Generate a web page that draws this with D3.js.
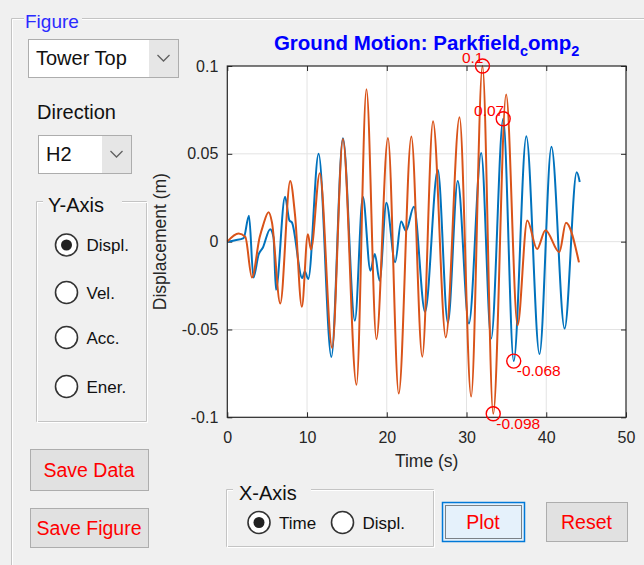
<!DOCTYPE html>
<html>
<head>
<meta charset="utf-8">
<script src="https://cdn.jsdelivr.net/npm/d3@7"></script>
<style>
  body { margin: 0; background: #f0f0f0; }
  svg { display: block; font-family: "Liberation Sans", Arial, sans-serif; }
</style>
</head>
<body>
<svg id="fig" width="644" height="565"></svg>
<script>
// displacement time histories at the turning points
var blueT = [0, 1.0, 2.05, 2.72, 3.28, 3.93, 4.45, 5.38, 5.8, 6.1, 7.24, 7.8, 8.1, 9.4, 9.72, 10.15,
    11.45, 13.05, 14.5, 16.0, 17.0, 17.95, 18.5, 19.1, 19.95, 21.05, 21.8, 22.4, 23.4, 24.8, 26.4,
    27.66, 28.9, 30.3, 31.84, 33.09, 34.6, 35.92, 37.5, 39.15, 40.65, 42.3, 43.82, 44.2];
var blueV = [0, 0.0008, 0.002, 0.0148, -0.0204, -0.0073, -0.0035, 0.0071, 0.0023, -0.0274, 0.0255, 0.012, 0.011, -0.0207, -0.017, -0.0212,
    0.05, -0.0656, 0.0588, -0.045, 0.0256, -0.0165, -0.007, -0.0222, 0.0222, -0.0117, 0.0115, 0.0062, 0.0198, -0.04, 0.0409,
    -0.0462, 0.0345, -0.0466, 0.0504, -0.0552, 0.07, -0.068, 0.06, -0.064, 0.054, -0.0495, 0.0395, 0.034];

var orangeT = [0, 1.42, 2.26, 3.09, 4.05, 4.47, 5.18, 5.6, 6.64, 7.89, 8.5, 9.35, 10.1, 10.5, 11.6,
    13.15, 14.5, 16.2, 17.45, 18.7, 20.15, 21.5, 23.08, 24.45, 25.8, 27.4, 29.12, 30.58, 32.0,
    33.35, 34.97, 36.4, 37.62, 38.85, 39.9, 41.64, 42.47, 44.1];
var orangeV = [0, 0.0046, 0.0027, -0.0204, 0.0023, 0.009, 0.0167, 0.011, -0.0352, 0.0346, 0.0148, -0.0371, 0.0042, -0.0044, 0.039,
    -0.0605, 0.0585, -0.0815, 0.0868, -0.0555, 0.059, -0.0865, 0.0598, -0.0655, 0.0685, -0.0545, 0.0708, -0.0882, 0.1,
    -0.098, 0.0838, -0.0476, 0.0121, -0.0042, 0.0065, -0.006, 0.0107, -0.0118];

// data tips
var markT = [32.0, 34.6, 35.92, 33.35];
var markV = [0.1, 0.07, -0.068, -0.098];
var markLabels = ["0.1", "0.07", "-0.068", "-0.098"];

var xTicks = [0, 10, 20, 30, 40, 50];
var xTickLabels = ["0", "10", "20", "30", "40", "50"];
var yTicks = [-0.1, -0.05, 0, 0.05, 0.1];
var yTickLabels = ["-0.1", "-0.05", "0", "0.05", "0.1"];

var yAxisOptions = ["Displ.", "Vel.", "Acc.", "Ener."];
var xAxisOptions = ["Time", "Displ."];

var svg = d3.select("#fig");

// etched panel border with a gap for the title
function panel(x0, y0, x1, y1, gapA, gapB) {
    [["#c4c4c4", 0], ["#ffffff", 1]].forEach(function(s) {
        var o = s[1];
        svg.append("path")
            .attr("d", "M" + (gapA) + "," + (y0 + o) + "H" + (x0 + o) + "V" + (y1 + o) +
                "H" + (x1 + o) + "V" + (y0 + o) + "H" + gapB)
            .attr("fill", "none")
            .attr("stroke", s[0]);
    });
}

function dropdown(x0, y0, x1, y1, xa, label) {
    svg.append("rect").attr("x", x0 + .5).attr("y", y0 + .5)
        .attr("width", x1 - x0).attr("height", y1 - y0)
        .attr("fill", "#fff").attr("stroke", "#adadad");
    svg.append("rect").attr("x", xa).attr("y", y0 + 1)
        .attr("width", x1 - xa).attr("height", y1 - y0 - 1)
        .attr("fill", "#e6e6e6");
    var cx = (xa + x1) / 2, cy = (y0 + y1) / 2;
    svg.append("path").attr("d", "M" + (cx - 6) + "," + (cy - 3) + "L" + cx + "," + (cy + 3) + "L" + (cx + 6) + "," + (cy - 3))
        .attr("fill", "none").attr("stroke", "#606060").attr("stroke-width", 1.3);
    svg.append("text").attr("x", x0 + 8).attr("y", cy + 7).attr("font-size", 20).attr("fill", "#111").text(label);
}

function radio(cx, cy, on, label) {
    svg.append("circle").attr("cx", cx).attr("cy", cy).attr("r", 11)
        .attr("fill", "#fff").attr("stroke", "#333").attr("stroke-width", 1.6);
    if (on) svg.append("circle").attr("cx", cx).attr("cy", cy).attr("r", 5.5).attr("fill", "#222");
    svg.append("text").attr("x", cx + 20).attr("y", cy + 6).attr("font-size", 17).attr("fill", "#111").text(label);
}

function button(x0, y0, x1, y1, label, focused) {
    svg.append("rect").attr("x", x0 + .5).attr("y", y0 + .5)
        .attr("width", x1 - x0).attr("height", y1 - y0)
        .attr("fill", focused ? "#e5f1fb" : "#e1e1e1")
        .attr("stroke", focused ? "#0078d7" : "#adadad").attr("stroke-width", focused ? 1.5 : 1);
    if (focused) {
        svg.append("rect").attr("x", x0 + 3.5).attr("y", y0 + 3.5)
            .attr("width", x1 - x0 - 6).attr("height", y1 - y0 - 6)
            .attr("fill", "none").attr("stroke", "#111").attr("stroke-dasharray", "1,1");
    }
    svg.append("text").attr("x", (x0 + x1) / 2).attr("y", (y0 + y1) / 2 + 7)
        .attr("text-anchor", "middle").attr("font-size", 19.5).attr("fill", "#ff0000").text(label);
}

// ---- controls ----
panel(11.5, 18.5, 700, 600, 24, 82);
svg.append("text").attr("x", 25).attr("y", 28).attr("font-size", 19).attr("fill", "#2b2bff").text("Figure");

dropdown(28, 39, 178, 77, 149, "Tower Top");
svg.append("text").attr("x", 37).attr("y", 119).attr("font-size", 20).attr("fill", "#111").text("Direction");
dropdown(38, 135, 131, 173, 102, "H2");

panel(36.5, 201.5, 146.5, 421.5, 43, 122);
svg.append("text").attr("x", 48).attr("y", 212).attr("font-size", 20).attr("fill", "#111").text("Y-Axis");
var radioY = d3.scaleOrdinal().domain(yAxisOptions).range([245, 292.5, 337.5, 386.5]);
yAxisOptions.forEach(function(d, i) { radio(66.5, radioY(d), i === 0, d); });

button(30, 449, 148, 490, "Save Data", false);
button(30, 508, 148, 547, "Save Figure", false);

panel(226.5, 489.5, 433.5, 546.5, 233, 311);
svg.append("text").attr("x", 239).attr("y", 500).attr("font-size", 20).attr("fill", "#111").text("X-Axis");
var radioX = d3.scaleOrdinal().domain(xAxisOptions).range([259, 342.5]);
xAxisOptions.forEach(function(d, i) { radio(radioX(d), 522.5, i === 0, d); });

button(442, 502, 524, 541, "Plot", true);
button(546, 502, 627, 541, "Reset", false);

// ---- axes ----
var axL = 227.3, axR = 626, axT = 66, axB = 417.3;
var x = d3.scaleLinear().domain([0, 50]).range([axL, axR]);
var y = d3.scaleLinear().domain([-0.1, 0.1]).range([axB, axT]);

svg.append("rect").attr("x", axL).attr("y", axT)
    .attr("width", axR - axL).attr("height", axB - axT).attr("fill", "#fff");

var grid = svg.append("g").attr("stroke", "#e3e3e3").attr("stroke-width", 1);
grid.selectAll(".gx").data(xTicks.slice(1, -1)).enter().append("line")
    .attr("x1", function(d) { return x(d); }).attr("x2", function(d) { return x(d); })
    .attr("y1", axT).attr("y2", axB);
grid.selectAll(".gy").data(yTicks.slice(1, -1)).enter().append("line")
    .attr("x1", axL).attr("x2", axR)
    .attr("y1", function(d) { return y(d); }).attr("y2", function(d) { return y(d); });

var fmtX = function(d, i) { return xTickLabels[i]; };
var fmtY = function(d, i) { return yTickLabels[i]; };

function styleAxis(g) {
    g.select(".domain").remove();
    g.selectAll("line").attr("stroke", "#262626");
    g.selectAll("text").attr("fill", "#262626").attr("font-size", 16).attr("font-family", null);
}

svg.append("g").attr("transform", "translate(0," + axB + ")")
    .call(d3.axisBottom(x).tickValues(xTicks).tickFormat(fmtX).tickSizeInner(-5).tickSizeOuter(0).tickPadding(14))
    .call(styleAxis);
svg.append("g").attr("transform", "translate(0," + axT + ")")
    .call(d3.axisTop(x).tickValues(xTicks).tickFormat("").tickSizeInner(-5).tickSizeOuter(0))
    .call(styleAxis);
svg.append("g").attr("transform", "translate(" + axL + ",0)")
    .call(d3.axisLeft(y).tickValues(yTicks).tickFormat(fmtY).tickSizeInner(-5).tickSizeOuter(0).tickPadding(9))
    .call(styleAxis);
svg.append("g").attr("transform", "translate(" + axR + ",0)")
    .call(d3.axisRight(y).tickValues(yTicks).tickFormat("").tickSizeInner(-5).tickSizeOuter(0))
    .call(styleAxis);

// ---- lines ----
var line = d3.line()
    .x(function(d) { return x(d[0]); })
    .y(function(d) { return y(d[1]); })
    .curve(d3.curveMonotoneX);

var lines = svg.append("g");
lines.append("path").datum(d3.zip(blueT, blueV))
    .attr("d", line).attr("fill", "none").attr("stroke", "#0072bd").attr("stroke-width", 2);
lines.append("path").datum(d3.zip(orangeT, orangeV))
    .attr("d", line).attr("fill", "none").attr("stroke", "#d95319").attr("stroke-width", 2);

svg.append("rect").attr("x", axL).attr("y", axT)
    .attr("width", axR - axL).attr("height", axB - axT)
    .attr("fill", "none").attr("stroke", "#262626").attr("stroke-width", 1.2);

// ---- data tips ----
var marks = svg.append("g");
markT.forEach(function(t, i) {
    var cx = x(t), cy = y(markV[i]);
    marks.append("circle").attr("cx", cx).attr("cy", cy).attr("r", 7)
        .attr("fill", "none").attr("stroke", "#ff0000").attr("stroke-width", 1.4);
    var up = markV[i] > 0;
    marks.append("text")
        .attr("x", up ? cx + 1 : cx + 3)
        .attr("y", up ? cy - 3 : cy + 15)
        .attr("text-anchor", up ? "end" : "start")
        .attr("font-size", 15.5).attr("fill", "#ff0000")
        .text(markLabels[i]);
});

// ---- labels ----
svg.append("text").attr("x", (axL + axR) / 2).attr("y", 467)
    .attr("text-anchor", "middle").attr("font-size", 17.5).attr("fill", "#262626").text("Time (s)");
svg.append("text").attr("transform", "translate(166," + ((axT + axB) / 2) + ") rotate(-90)")
    .attr("text-anchor", "middle").attr("font-size", 17.5).attr("fill", "#262626").text("Displacement (m)");

var title = svg.append("text").attr("x", (axL + axR) / 2).attr("y", 50)
    .attr("text-anchor", "middle").attr("font-size", 20.5).attr("font-weight", "bold").attr("fill", "#0000ff");
title.append("tspan").text("Ground Motion: Parkfield");
title.append("tspan").attr("dy", 6).attr("font-size", 14.5).text("c");
title.append("tspan").attr("dy", -6).text("omp");
title.append("tspan").attr("dy", 6).attr("font-size", 14.5).text("2");
</script>
</body>
</html>
